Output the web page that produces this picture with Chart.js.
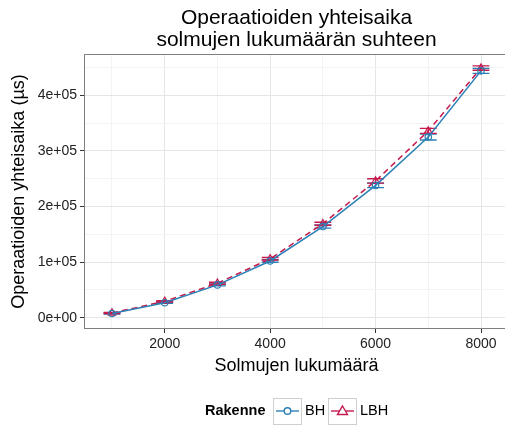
<!DOCTYPE html>
<html lang="fi">
<head>
    <meta charset="UTF-8">
    <title>Operaatioiden yhteisaika</title>
    <script src="https://cdn.jsdelivr.net/npm/chart.js"></script>
    <style>
        body {
            margin: 0;
            background-color: #ffffff;
            overflow: hidden;
        }

        .chart-box {
            width: 520px;
            height: 425px;
        }
    </style>
</head>
<body>
<div class="chart-box">
    <canvas id="timeChart"></canvas>
</div>

<script>
    // solmujen lukumäärä (x)
    const nodeCounts = [1000, 2000, 3000, 4000, 5000, 6000, 7000, 8000];

    // keskiarvot ja virherajat (µs)
    const bhTimes = [7500, 27000, 59000, 102000, 164000, 238000, 325000, 444000];
    const bhErrors = [800, 1200, 1800, 2200, 2800, 4000, 5500, 4500];
    const lbhTimes = [8500, 29500, 62000, 106000, 169000, 246000, 336000, 449000];
    const lbhErrors = [800, 1200, 1800, 2200, 2800, 4000, 4500, 4000];

    const xTicks = [1000, 2000, 3000, 4000, 5000, 6000, 7000, 8000];
    const yTicks = [0, 50000, 100000, 150000, 200000, 250000, 300000, 350000, 400000, 450000];

    const titleLines = ['Operaatioiden yhteisaika', 'solmujen lukumäärän suhteen'];
    const xTitle = 'Solmujen lukumäärä';
    const yTitle = 'Operaatioiden yhteisaika (µs)';
    const legendTitle = 'Rakenne';
    const seriesNames = ['BH', 'LBH'];

    const BLUE = '#2b80b6';
    const RED = '#c41a4e';
    const FONT = "'Liberation Sans', Arial, sans-serif";

    function sciLabel(v) {
        if (v === 0) return '0e+00';
        const exp = Math.floor(Math.log10(v));
        const mant = Math.round(v / Math.pow(10, exp));
        return mant + 'e+' + String(exp).padStart(2, '0');
    }

    function toPoints(values) {
        return nodeCounts.map((n, i) => ({x: n, y: values[i]}));
    }

    const errorSets = [bhErrors, lbhErrors];

    // virhepalkit piirretään skaalojen kautta
    const errorBars = {
        id: 'errorBars',
        beforeDatasetsDraw(chart) {
            const ctx = chart.ctx;
            const xs = chart.scales.x;
            const ys = chart.scales.y;
            chart.data.datasets.forEach((ds, d) => {
                ctx.save();
                ctx.strokeStyle = ds.borderColor;
                ctx.lineWidth = 1.4;
                ds.data.forEach((p, i) => {
                    const e = errorSets[d][i];
                    const x0 = xs.getPixelForValue(p.x - 160);
                    const x1 = xs.getPixelForValue(p.x + 160);
                    const xc = xs.getPixelForValue(p.x);
                    const yLo = ys.getPixelForValue(p.y - e);
                    const yHi = ys.getPixelForValue(p.y + e);
                    ctx.beginPath();
                    ctx.moveTo(xc, yLo);
                    ctx.lineTo(xc, yHi);
                    ctx.moveTo(x0, yLo);
                    ctx.lineTo(x1, yLo);
                    ctx.moveTo(x0, yHi);
                    ctx.lineTo(x1, yHi);
                    ctx.stroke();
                });
                ctx.restore();
            });
        }
    };

    // reunus, otsikot ja selite ggplot-tyyliin
    const decorations = {
        id: 'decorations',
        afterDraw(chart) {
            const ctx = chart.ctx;
            const a = chart.chartArea;
            const cx = (a.left + a.right) / 2;

            ctx.save();
            ctx.strokeStyle = '#7f7f7f';
            ctx.lineWidth = 1;
            ctx.strokeRect(a.left + 0.5, a.top + 0.5, a.right - a.left - 1, a.bottom - a.top - 1);

            ctx.fillStyle = '#000';
            ctx.textAlign = 'center';
            ctx.textBaseline = 'alphabetic';
            ctx.font = '21px ' + FONT;
            ctx.fillText(titleLines[0], cx, 24);
            ctx.fillText(titleLines[1], cx, 46);

            ctx.font = '18px ' + FONT;
            ctx.textBaseline = 'middle';
            ctx.fillText(xTitle, cx, 366);

            ctx.save();
            ctx.translate(19, (a.top + a.bottom) / 2);
            ctx.rotate(-Math.PI / 2);
            ctx.fillText(yTitle, 0, 0);
            ctx.restore();

            // selite
            const ly = 411;
            ctx.textAlign = 'left';
            ctx.font = 'bold 14.5px ' + FONT;
            ctx.fillText(legendTitle, 205, ly);

            const keys = [
                {x: 273, color: BLUE, dash: [], shape: 'circle', label: seriesNames[0]},
                {x: 328, color: RED, dash: [], shape: 'triangle', label: seriesNames[1]}
            ];
            keys.forEach(k => {
                ctx.strokeStyle = '#cfcfcf';
                ctx.lineWidth = 1;
                ctx.strokeRect(k.x + 0.5, ly - 13 + 0.5, 28, 26);

                ctx.strokeStyle = k.color;
                ctx.lineWidth = 1.4;
                ctx.setLineDash(k.dash);
                ctx.beginPath();
                ctx.moveTo(k.x + 3, ly);
                ctx.lineTo(k.x + 26, ly);
                ctx.stroke();
                ctx.setLineDash([]);

                const mx = k.x + 14.5;
                ctx.beginPath();
                if (k.shape === 'circle') {
                    ctx.fillStyle = '#fff';
                    ctx.arc(mx, ly, 3.3, 0, Math.PI * 2);
                } else {
                    ctx.fillStyle = '#fff';
                    ctx.moveTo(mx, ly - 5);
                    ctx.lineTo(mx + 5, ly + 3.5);
                    ctx.lineTo(mx - 5, ly + 3.5);
                    ctx.closePath();
                }
                ctx.fill();
                ctx.stroke();

                ctx.fillStyle = '#000';
                ctx.font = '14.5px ' + FONT;
                ctx.fillText(k.label, k.x + 32, ly);
            });
            ctx.restore();
        }
    };

    new Chart(document.getElementById('timeChart').getContext('2d'), {
        type: 'line',
        data: {
            datasets: [{
                label: seriesNames[0],
                data: toPoints(bhTimes),
                borderColor: BLUE,
                borderWidth: 1.5,
                pointStyle: 'circle',
                pointRadius: 3.2,
                pointBorderWidth: 1.2,
                pointBackgroundColor: 'rgba(0,0,0,0)',
                pointBorderColor: BLUE,
                tension: 0
            }, {
                label: seriesNames[1],
                data: toPoints(lbhTimes),
                borderColor: RED,
                borderWidth: 1.5,
                borderDash: [6, 4],
                pointStyle: 'triangle',
                pointRadius: 4.2,
                pointBorderWidth: 1.2,
                pointBackgroundColor: 'rgba(0,0,0,0)',
                pointBorderColor: RED,
                tension: 0
            }]
        },
        options: {
            responsive: true,
            maintainAspectRatio: false,
            animation: false,
            layout: {
                padding: {left: 0, top: 54, right: 11, bottom: 0}
            },
            plugins: {
                legend: {display: false},
                title: {display: false},
                tooltip: {enabled: false}
            },
            scales: {
                x: {
                    type: 'linear',
                    min: 469,
                    max: 8531,
                    afterBuildTicks: scale => {
                        scale.ticks = xTicks.map(v => ({value: v}));
                    },
                    afterFit: scale => {
                        scale.height = 96;
                    },
                    ticks: {
                        autoSkip: false,
                        maxRotation: 0,
                        padding: 3,
                        color: '#222',
                        font: {family: FONT, size: 14},
                        callback: v => (v % 2000 === 0 ? String(v) : '')
                    },
                    grid: {
                        color: c => (c.tick && c.tick.value % 2000 === 0 ? '#e5e5e5' : '#f3f3f3'),
                        tickColor: c => (c.tick && c.tick.value % 2000 === 0 ? '#333' : 'rgba(0,0,0,0)'),
                        tickLength: 4,
                        lineWidth: 1
                    },
                    border: {display: false}
                },
                y: {
                    min: -20300,
                    max: 474300,
                    afterBuildTicks: scale => {
                        scale.ticks = yTicks.map(v => ({value: v}));
                    },
                    afterFit: scale => {
                        scale.width = 84;
                    },
                    ticks: {
                        autoSkip: false,
                        padding: 3,
                        color: '#222',
                        font: {family: FONT, size: 14},
                        callback: v => (v % 100000 === 0 ? sciLabel(v) : '')
                    },
                    grid: {
                        color: c => (c.tick && c.tick.value % 100000 === 0 ? '#e5e5e5' : '#f3f3f3'),
                        tickColor: c => (c.tick && c.tick.value % 100000 === 0 ? '#333' : 'rgba(0,0,0,0)'),
                        tickLength: 4,
                        lineWidth: 1
                    },
                    border: {display: false}
                }
            }
        },
        plugins: [errorBars, decorations]
    });
</script>
</body>
</html>
